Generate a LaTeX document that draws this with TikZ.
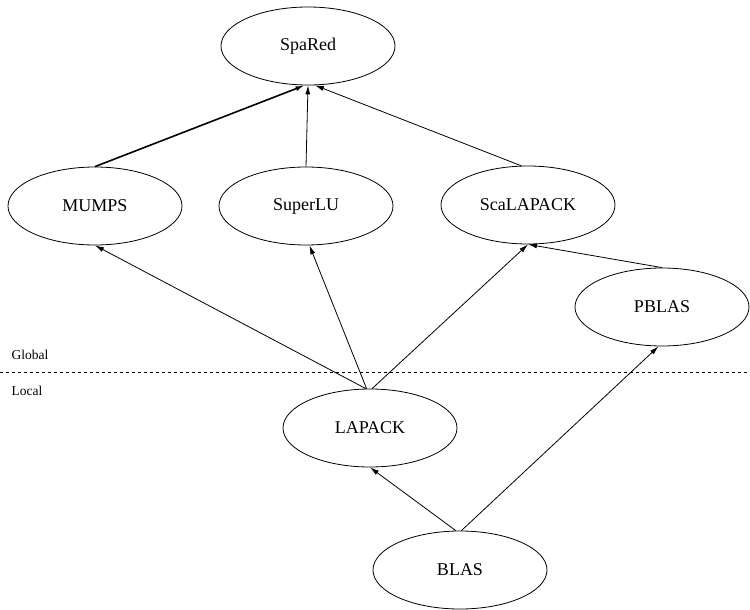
\documentclass[tikz,border=0pt]{standalone}
\usepackage{fontspec}
\setmainfont{Liberation Serif}
\usetikzlibrary{arrows.meta,shapes.geometric}

\tikzset{
  lib/.style={ellipse,draw,line width=0.8pt,minimum width=174pt,minimum height=78pt,inner sep=0pt,font=\fontsize{18}{20}\selectfont},
  dep/.style={-{Latex[length=9pt,width=5pt]},line width=0.8pt},
  layer/.style={anchor=west,font=\fontsize{13.5}{15}\selectfont}
}

\begin{document}
\begin{tikzpicture}[x=1pt,y=-1pt]
\useasboundingbox (0,0) rectangle (750,610);
\node[lib] (spared) at (308,46) {SpaRed};
\node[lib] (mumps) at (95,206) {MUMPS};
\node[lib] (superlu) at (306,206) {SuperLU};
\node[lib] (scalapack) at (528,205) {ScaLAPACK};
\node[lib] (pblas) at (662,307) {PBLAS};
\node[lib] (lapack) at (370,428) {LAPACK};
\node[lib] (blas) at (460,570) {BLAS};
% global / local split
\draw[dashed,line width=0.8pt] (0,372) -- (750,372);
\node[layer] (global) at (8,355) {Global};
\node[layer] (local) at (8,391) {Local};
% dependencies
\draw[dep,line width=1.6pt] (mumps.north) -- (spared.-95);
\draw[dep] (superlu.north) -- (spared.south);
\draw[dep] (scalapack.100) -- (spared.-80);
\draw[dep] (lapack.96) -- (mumps.south);
\draw[dep] (lapack.95) -- (superlu.-85);
\draw[dep] (lapack.87) -- (scalapack.south);
\draw[dep] (pblas.north) -- (scalapack.south);
\draw[dep] (blas.96) -- (lapack.south);
\draw[dep] (blas.88) -- (pblas.-95);
\end{tikzpicture}
\end{document}
